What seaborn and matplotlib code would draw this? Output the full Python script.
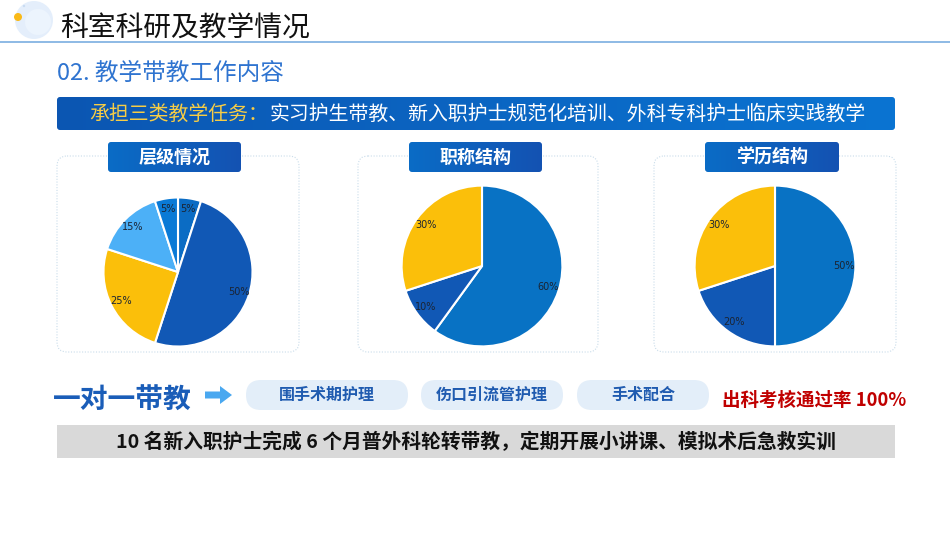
import numpy as np
import matplotlib
matplotlib.use('Agg')
import matplotlib.pyplot as plt
from matplotlib.patches import FancyBboxPatch, Circle, FancyArrow, Rectangle
import seaborn as sns

# data
pie_titles = ['层级情况', '职称结构', '学历结构']
level_values = [5, 50, 25, 15, 5]
level_colors = ['#0b6cc4', '#1158b5', '#fbbf0a', '#4cb0f7', '#0a7ad6']
rank_values = [60, 10, 30]
rank_colors = ['#0872c4', '#1158b5', '#fbbf0a']
edu_values = [50, 20, 30]
edu_colors = ['#0872c4', '#1158b5', '#fbbf0a']

main_title = '科室科研及教学情况'
sub_title = '02. 教学带教工作内容'
banner_head = '承担三类教学任务：'
banner_body = '实习护生带教、新入职护士规范化培训、外科专科护士临床实践教学'
mentor_label = '一对一带教'
mentor_items = ['围手术期护理', '伤口引流管护理', '手术配合']
pass_rate = '出科考核通过率 100%'
footer = '10 名新入职护士完成 6 个月普外科轮转带教，定期开展小讲课、模拟术后急救实训'

sns.set_theme(style='white')
plt.rcParams['font.family'] = ['Noto Sans CJK SC', 'DejaVu Sans']

W, H = 950, 535
fig = plt.figure(figsize=(W / 100, H / 100), dpi=100)
bg = fig.add_axes([0, 0, 1, 1])
bg.set_xlim(0, W)
bg.set_ylim(H, 0)
bg.axis('off')


def gradient_box(x, y, w, h, c1, c2, rad, z=2):
    box = FancyBboxPatch((x, y), w, h, boxstyle=f'round,pad=0,rounding_size={rad}',
                         fc='none', ec='none', zorder=z)
    bg.add_patch(box)
    grad = np.linspace(0, 1, 256).reshape(1, -1)
    cmap = matplotlib.colors.LinearSegmentedColormap.from_list('g', [c1, c2])
    im = bg.imshow(grad, cmap=cmap, extent=(x, x + w, y + h, y), aspect='auto', zorder=z)
    im.set_clip_path(box)


# header decoration
bg.add_patch(Circle((34, 20), 19, fc='#e1edfb', ec='none', alpha=0.9))
bg.add_patch(Circle((38, 22), 13, fc='#ecf4fd', ec='none'))
bg.add_patch(Circle((18, 17), 4, fc='#f9b918', ec='none'))
bg.add_patch(Circle((24, 6), 1.2, fc='#c9dcf2', ec='none'))
bg.text(60, 29, main_title, fontsize=20, color='#111111', va='center', ha='left')
bg.plot([0, W], [42, 42], color='#7aaee0', lw=1.2)
bg.text(57, 73, sub_title, fontsize=17, color='#2f74d0', va='center', ha='left')

# banner
gradient_box(57, 97, 838, 33, '#0c56b2', '#0a74d2', 3)
renderer = fig.canvas.get_renderer()
t = bg.text(89, 114, banner_head, fontsize=14.3, color='#f7cd45', va='center', ha='left', zorder=5)
ext = t.get_window_extent(renderer=renderer)
bg.text(ext.x1 + 2, 114, banner_body, fontsize=14.3, color='white', va='center', ha='left', zorder=5)

# panels
panels = [(57, 156, 242, 196), (358, 156, 240, 196), (654, 156, 242, 196)]
badges = [(108, 142, 133, 30), (409, 142, 133, 30), (705, 142, 134, 30)]
for (px, py, pw, ph), (bx, by, bw, bh), title in zip(panels, badges, pie_titles):
    bg.add_patch(FancyBboxPatch((px, py), pw, ph, boxstyle='round,pad=0,rounding_size=10',
                                fc='white', ec='#c9dcea', lw=0.8, ls=(0, (1, 1.5)), zorder=1))
    gradient_box(bx, by, bw, bh, '#0a6cc6', '#1452b2', 3, z=3)
    bg.text(bx + bw / 2, by + bh / 2, title, fontsize=13, fontweight='bold', color='white',
            ha='center', va='center', zorder=5)

# pies
pie_specs = [
    (level_values, level_colors, (178, 272), 76),
    (rank_values, rank_colors, (482, 266), 82),
    (edu_values, edu_colors, (775, 266), 82),
]
for values, colors, (cx, cy), r in pie_specs:
    ax = fig.add_axes([(cx - r) / W, (H - cy - r) / H, 2 * r / W, 2 * r / H])
    ax.pie(values, colors=colors, startangle=90, counterclock=False,
           autopct='%d%%', pctdistance=0.86,
           wedgeprops=dict(edgecolor='white', linewidth=1.5),
           textprops=dict(fontsize=7, color='#1b2433', family='DejaVu Sans'))
    ax.set_xlim(-1.02, 1.02)
    ax.set_ylim(-1.02, 1.02)
    ax.axis('off')

# one-to-one teaching row
bg.text(53, 401, mentor_label, fontsize=20, fontweight='bold', color='#1a5db8',
        ha='left', va='center')
bg.add_patch(FancyArrow(205, 395, 15, 0, width=7, head_width=18, head_length=12,
                        length_includes_head=False, fc='#4aa8f0', ec='none'))
pill_boxes = [(246, 380, 162, 30), (421, 380, 142, 30), (577, 380, 132, 30)]
for (x, y, w, h), label in zip(pill_boxes, mentor_items):
    bg.add_patch(FancyBboxPatch((x, y), w, h, boxstyle='round,pad=0,rounding_size=15',
                                fc='#e3eef9', ec='none'))
    bg.text(x + w / 2, y + h / 2, label, fontsize=11.5, fontweight='bold', color='#1f5bb0',
            ha='center', va='center')
bg.text(722, 400, pass_rate, fontsize=13.3, fontweight='bold', color='#c00000',
        ha='left', va='center')

# footer bar
bg.add_patch(Rectangle((57, 425), 838, 33, fc='#d9d9d9', ec='none'))
bg.text(476, 442, footer, fontsize=14.2, fontweight='bold', color='#111111',
        ha='center', va='center')

fig.savefig('out.png', dpi=100)
